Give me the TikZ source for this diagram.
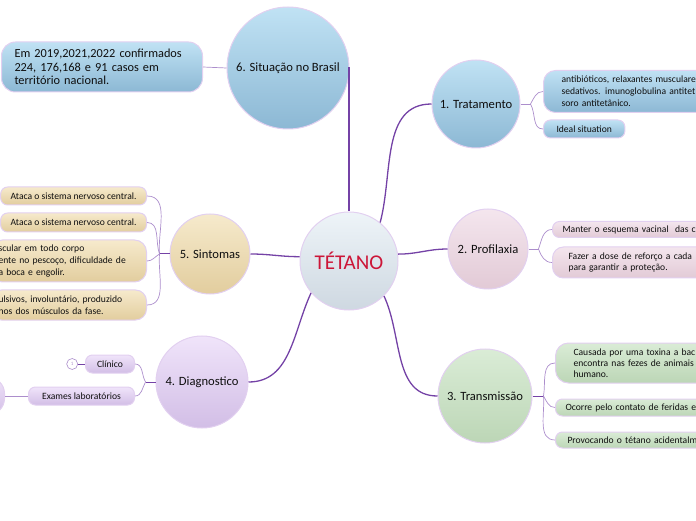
\documentclass[tikz,border=0pt]{standalone}
\usepackage{fontspec}
\setmainfont{Carlito}
\usepackage{tikz}
\usetikzlibrary{positioning}
\definecolor{vinered}    {RGB}{204, 22, 56}
\definecolor{trunkpurple}{RGB}{116, 66,166}
\definecolor{twiglilac}  {RGB}{172,142,204}
\definecolor{rimlilac}   {RGB}{226,208,240}
\definecolor{inkdark}    {RGB}{ 15, 15, 15}
\definecolor{skytop}     {RGB}{192,226,244}
\definecolor{skybot}     {RGB}{140,184,212}
\definecolor{coretop}    {RGB}{238,244,248}
\definecolor{corebot}    {RGB}{206,216,225}
\definecolor{rosetop}    {RGB}{244,230,238}
\definecolor{rosebot}    {RGB}{226,202,214}
\definecolor{mosstop}    {RGB}{218,236,214}
\definecolor{mossbot}    {RGB}{188,214,182}
\definecolor{sandtop}    {RGB}{246,234,204}
\definecolor{sandbot}    {RGB}{226,205,158}
\definecolor{liltop}     {RGB}{240,228,250}
\definecolor{lilbot}     {RGB}{210,190,230}
\tikzset{
  hub/.style={circle,draw=rimlilac,line width=1pt,inner sep=0pt,
              font=\fontsize{12.6}{14}\selectfont,text=inkdark},
  hubcore/.style={hub,top color=coretop,bottom color=corebot},
  hubsky/.style={hub,top color=skytop,bottom color=skybot},
  hubrose/.style={hub,top color=rosetop,bottom color=rosebot},
  hubmoss/.style={hub,top color=mosstop,bottom color=mossbot},
  hubsand/.style={hub,top color=sandtop,bottom color=sandbot},
  hublil/.style={hub,top color=liltop,bottom color=lilbot},
  leaf/.style={draw=rimlilac,line width=1pt,rounded corners=7pt,
               font=\fontsize{9.6}{11.8}\selectfont,text=inkdark,
               inner xsep=10pt,inner ysep=3pt,minimum height=18pt,
               align=left},
  leafsky/.style={leaf,top color=skytop,bottom color=skybot},
  leafrose/.style={leaf,top color=rosetop,bottom color=rosebot},
  leafmoss/.style={leaf,top color=mosstop,bottom color=mossbot},
  leafsand/.style={leaf,top color=sandtop,bottom color=sandbot},
  leaflil/.style={leaf,top color=liltop,bottom color=lilbot},
  tag/.style={circle,draw=twiglilac,fill=white,line width=0.6pt,
              inner sep=0pt,minimum size=11pt,
              font=\fontsize{5}{6}\selectfont,text=twiglilac},
  trunk/.style={draw=trunkpurple,line width=1.3pt},
  stem/.style={draw=trunkpurple,line width=1pt},
  twig/.style={draw=twiglilac,line width=0.7pt},
}
\begin{document}
\begin{tikzpicture}[x=1pt,y=1pt]
\useasboundingbox (0,0) rectangle (696,520);
\node[hubcore,minimum size=98pt,font=\fontsize{21}{23}\selectfont,
      text=vinered] (tet) at (349,259) {TÉTANO};
\node[hubsky,minimum size=122pt] (sit) at (288,452) {6. Situação no Brasil};
\node[hubsky,minimum size=88pt]  (trt) at (476,416) {1. Tratamento};
\node[hubrose,minimum size=80pt] (pro) at (488,271) {2. Profilaxia};
\node[hubmoss,minimum size=94pt] (trm) at (485,124) {3. Transmissão};
\node[hublil,minimum size=92pt]  (dia) at (202,138) {4. Diagnostico};
\node[hubsand,minimum size=80pt] (sin) at (210,266) {5. Sintomas};

\node[leafsky,anchor=east,text width=175pt,inner xsep=13pt,
      minimum height=50pt,rounded corners=14pt,
      font=\fontsize{12.3}{13.5}\selectfont] (casos) at (203,453)
      {Em 2019,2021,2022 confirmados\\224, 176,168 e 91 casos em\\território nacional.};
\node[leafsky,anchor=north west,text width=200pt,inner xsep=18pt,
      minimum height=42pt,rounded corners=12pt] (med) at (543,450)
      {antibióticos, relaxantes musculare\\sedativos. imunoglobulina antitet\\soro antitetânico.};
\node[leafsky,anchor=west,inner xsep=13pt] (ideal) at (543,391) {Ideal situation};
\node[leafrose,anchor=west,text width=200pt,inner xsep=10pt,
      minimum height=16pt] (vac) at (552,290.5) {Manter o esquema vacinal~ das c};
\node[leafrose,anchor=west,text width=200pt,inner xsep=16pt,
      minimum height=31pt,rounded corners=11pt] (dose) at (552,257.5)
      {Fazer a dose de reforço a cada\\para garantir a proteção.};
\node[leafmoss,anchor=west,text width=200pt,inner xsep=18pt,
      minimum height=40pt,rounded corners=13pt,
      font=\fontsize{9.6}{10.8}\selectfont] (tox) at (555,157)
      {Causada por uma toxina a bac\\encontra nas fezes de animais\\humano.};
\node[leafmoss,anchor=west,text width=200pt,inner xsep=10pt,
      minimum height=17pt] (fer) at (555,112.5) {Ocorre pelo contato de feridas e};
\node[leafmoss,anchor=west,text width=200pt,inner xsep=12pt,
      minimum height=16pt] (aci) at (555,80) {Provocando o tétano acidentalm};

\node[leafsand,anchor=east] (snc1) at (147,324) {Ataca o sistema nervoso central.};
\node[leafsand,anchor=east,minimum height=19pt] (snc2) at (147,297.5)
      {Ataca o sistema nervoso central.};
\node[leafsand,anchor=east,text width=140pt,inner xsep=8pt,
      minimum height=42pt,rounded corners=12pt] (rig) at (147,259)
      {scular em todo corpo\\ente no pescoço, dificuldade de\\a boca e engolir.};
\node[leafsand,anchor=east,text width=140pt,inner xsep=8pt,
      minimum height=30pt,rounded corners=11pt] (esp) at (147,215)
      {ulsivos, involuntário, produzido\\nos dos músculos da fase.};

\node[leaflil,anchor=east,minimum width=49pt,align=center] (cli) at (135,156) {Clínico};
\node[tag,left=7pt of cli] (num) {1};
\node[leaflil,anchor=east,minimum width=106pt,align=center] (lab) at (135,124)
      {Exames laboratórios};
\node[leaflil,left=23pt of lab,minimum width=50pt,minimum height=37pt,
      rounded corners=16pt] (labsub) {};

\draw[trunk] (sit.east) -| (tet.north);
\draw[trunk] (tet.51) to[out=75,in=180] (trt.west);
\draw[trunk] (tet.8) to[out=0,in=180] (pro.west);
\draw[trunk] (tet.-45) to[out=-65,in=180] (trm.west);
\draw[trunk] (tet.-140) to[out=-115,in=0] (dia.east);
\draw[trunk] (tet.175) to[out=180,in=0] (sin.east);

\draw[twig] (sit.west) -- (casos.east);
\draw[twig] (trt.east) -- ++(10,0) coordinate (trtknot);
\draw[twig] (trtknot) to[out=60,in=180] (med.west);
\draw[twig] (trtknot) to[out=-60,in=180] (ideal.west);
\draw[twig] (pro.east) -- ++(10,0) coordinate (proknot);
\draw[twig] (proknot) to[out=70,in=180] (vac.west);
\draw[twig] (proknot) to[out=-70,in=180] (dose.west);
\draw[stem] (trm.east) -- ++(11,0) coordinate (trmknot);
\draw[twig] (trmknot) to[out=80,in=180] (tox.west);
\draw[twig] (trmknot) to[out=-60,in=180] (fer.west);
\draw[twig] (trmknot) to[out=-85,in=180] (aci.west);
\draw[stem] (sin.west) -- ++(-10,0) coordinate (sinknot);
\draw[twig] (sinknot) to[out=95,in=0] (snc1.east);
\draw[twig] (sinknot) to[out=110,in=0] (snc2.east);
\draw[twig] (sinknot) to[out=-150,in=0] (rig.east);
\draw[twig] (sinknot) to[out=-95,in=0] (esp.east);
\draw[stem] (dia.west) -- ++(-10,0) coordinate (diaknot);
\draw[twig] (diaknot) to[out=120,in=0] (cli.east);
\draw[twig] (diaknot) to[out=-120,in=0] (lab.east);
\draw[stem] (num) -- (cli);
\draw[twig] (lab.west) -- (labsub.east);
\end{tikzpicture}
\end{document}
